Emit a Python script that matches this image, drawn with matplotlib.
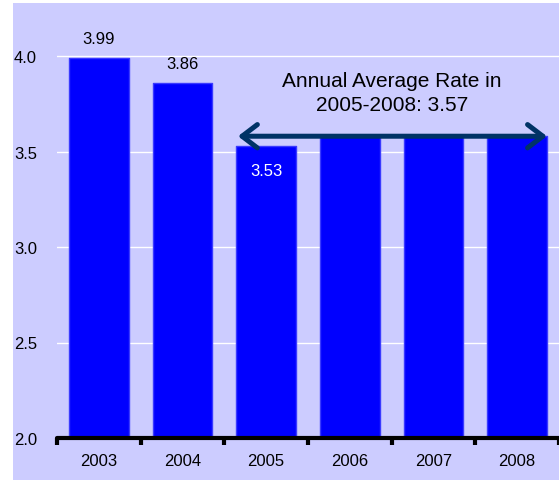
import matplotlib.pyplot as plt
from matplotlib.patches import Rectangle, FancyArrowPatch
import numpy as np

plt.rcParams['font.family'] = ['Liberation Sans', 'DejaVu Sans']

years = ['2003', '2004', '2005', '2006', '2007', '2008']
rates = [3.99, 3.86, 3.53, 3.58, 3.58, 3.58]
labels = ['3.99', '3.86', '3.53']
avg_text = 'Annual Average Rate in\n2005-2008: 3.57'
yticks = [2.0, 2.5, 3.0, 3.5, 4.0]

fig = plt.figure(figsize=(5.59, 4.85), dpi=100)
fig.patch.set_facecolor('white')
# lavender chart area
fig.patches.append(Rectangle((13/559, 1-481/485), 546/559, 477/485,
                             transform=fig.transFigure, facecolor='#CCCCFF',
                             edgecolor='none', zorder=-5))

ax = fig.add_axes([57/559, 1-439/485, 502/559, 435/485])
ax.set_facecolor('none')

x = np.arange(len(years))
ax.bar(x, rates, width=0.71, color='#0000FF', edgecolor='#3A3AFF', lw=1,
       joinstyle='round', zorder=2)

ax.set_xlim(-0.5, 5.5)
ax.set_ylim(2.0, 4.0 + 53/191)
ax.set_yticks(yticks)
ax.set_yticklabels([f'{v:.1f}' for v in yticks], ha='left', fontsize=12)
ax.yaxis.grid(True, color='white', lw=1)
ax.set_axisbelow(True)

ax.set_xticks(x)
ax.set_xticklabels(years, fontsize=12)
ax.set_xticks(np.arange(-0.5, 6, 1), minor=True)
ax.tick_params(axis='x', which='major', length=0, pad=11)
ax.tick_params(axis='x', which='minor', length=5, width=3, direction='out', color='black')
ax.tick_params(axis='y', length=0, pad=31)

for s in ['top', 'right', 'left']:
    ax.spines[s].set_visible(False)
ax.spines['bottom'].set_linewidth(3)
ax.spines['bottom'].set_zorder(3)
ax.spines['bottom'].set_capstyle('round')

# value labels
ax.text(0, rates[0] + 0.1, labels[0], ha='center', va='center', fontsize=12)
ax.text(1, rates[1] + 0.1, labels[1], ha='center', va='center', fontsize=12, zorder=4)
ax.text(2, rates[2] - 0.13, labels[2], ha='center', va='center', fontsize=12, color='white', zorder=4)

# average arrow
arr = FancyArrowPatch((1.663, 3.58), (5.356, 3.58),
                      arrowstyle='<->,head_length=0.55,head_width=0.42',
                      mutation_scale=20, color='#003366', lw=3.6,
                      shrinkA=0, shrinkB=0, zorder=5)
ax.add_patch(arr)
ax.text(3.5, 3.81, avg_text, ha='center', va='center', fontsize=15,
        linespacing=1.3, zorder=5)

fig.savefig('out.png', dpi=100)
